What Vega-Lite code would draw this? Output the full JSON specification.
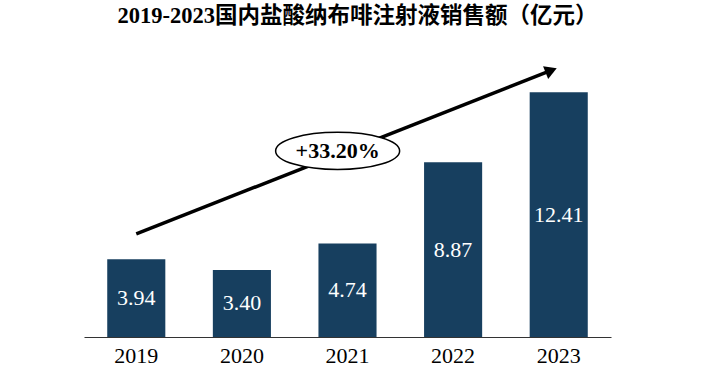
{
  "$schema": "https://vega.github.io/schema/vega-lite/v6.json",
  "width": 527,
  "height": 276,
  "autosize": "none",
  "padding": {"left": 84, "top": 61, "right": 101, "bottom": 47},
  "background": "white",
  "config": {"view": {"stroke": null}},
  "title": {
    "text": "2019-2023国内盐酸纳布啡注射液销售额（亿元）",
    "font": "Liberation Serif, Noto Sans CJK SC",
    "fontSize": 22.5,
    "fontWeight": "bold",
    "color": "black",
    "anchor": "middle",
    "baseline": "alphabetic",
    "dx": 10,
    "offset": 16
  },
  "data": {
    "values": [
      {"year": "2019", "value": 3.94},
      {"year": "2020", "value": 3.40},
      {"year": "2021", "value": 4.74},
      {"year": "2022", "value": 8.87},
      {"year": "2023", "value": 12.41}
    ]
  },
  "layer": [
    {
      "mark": {"type": "bar", "color": "#173f5f"},
      "encoding": {
        "x": {
          "field": "year",
          "type": "nominal",
          "sort": null,
          "scale": {"paddingInner": 0.45, "paddingOuter": 0.22},
          "axis": {
            "title": null,
            "labelAngle": 0,
            "labelFont": "Liberation Serif",
            "labelFontSize": 22,
            "labelColor": "black",
            "labelPadding": 8,
            "ticks": false,
            "domainColor": "#333333",
            "domainWidth": 1.2
          }
        },
        "y": {
          "field": "value",
          "type": "quantitative",
          "scale": {"domain": [0, 14]},
          "axis": null
        }
      }
    },
    {
      "mark": {"type": "text", "color": "white", "font": "Liberation Serif", "fontSize": 22, "baseline": "middle"},
      "encoding": {
        "x": {"field": "year", "type": "nominal", "sort": null},
        "y": {"field": "value", "type": "quantitative", "scale": {"domain": [0, 28]}, "axis": null},
        "text": {"field": "value", "type": "quantitative", "format": ".2f"}
      }
    },
    {
      "data": {"values": [{}]},
      "mark": {"type": "rule", "color": "black", "strokeWidth": 3.5},
      "encoding": {
        "x": {"datum": "2023", "bandPosition": 0.37},
        "x2": {"datum": "2019"},
        "y": {"datum": 13.52, "type": "quantitative", "scale": {"domain": [0, 14]}, "axis": null},
        "y2": {"datum": 5.23}
      }
    },
    {
      "data": {"values": [{}]},
      "mark": {"type": "point", "shape": "triangle-right", "filled": true, "color": "black", "opacity": 1, "size": 190, "angle": 338.4},
      "encoding": {
        "x": {"datum": "2023", "bandPosition": 0.37},
        "y": {"datum": 13.52, "type": "quantitative", "scale": {"domain": [0, 14]}, "axis": null}
      }
    },
    {
      "data": {"values": [{}]},
      "mark": {"type": "point", "shape": "M-1,0 A1,0.3 0 1,1 1,0 A1,0.3 0 1,1 -1,0 Z", "filled": true, "fill": "white", "stroke": "black", "strokeWidth": 1.5, "opacity": 1, "size": 15376},
      "encoding": {
        "x": {"datum": "2021", "bandPosition": 0.33},
        "y": {"datum": 9.44, "type": "quantitative", "scale": {"domain": [0, 14]}, "axis": null}
      }
    },
    {
      "data": {"values": [{"label": "+33.20%"}]},
      "mark": {"type": "text", "color": "black", "font": "Liberation Serif", "fontSize": 22, "fontWeight": "bold", "baseline": "middle"},
      "encoding": {
        "x": {"datum": "2021", "bandPosition": 0.33},
        "y": {"datum": 9.44, "type": "quantitative", "scale": {"domain": [0, 14]}, "axis": null},
        "text": {"field": "label"}
      }
    }
  ],
  "resolve": {"scale": {"y": "independent"}}
}
